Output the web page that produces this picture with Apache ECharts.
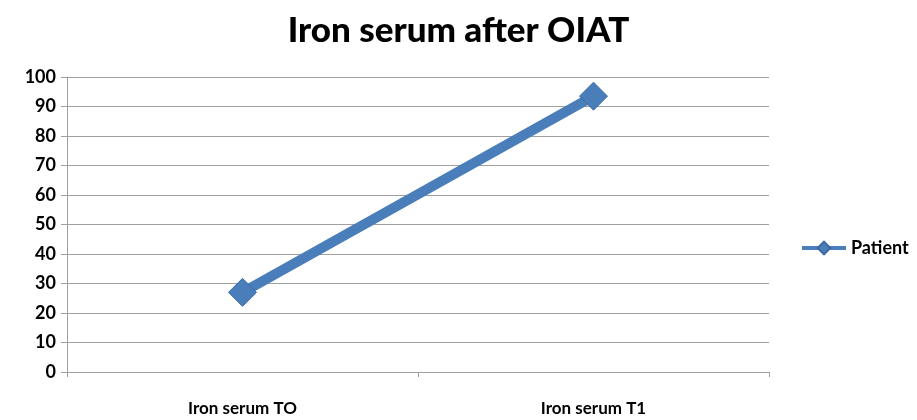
<!DOCTYPE html>
<html><head><meta charset="utf-8">
<script src="https://cdn.jsdelivr.net/npm/echarts@6/dist/echarts.min.js"></script>
<style>html,body{margin:0;padding:0;background:#fff}#c{width:917px;height:420px}</style>
</head><body><div id="c"></div>
<script>
var categories = ['Iron serum TO', 'Iron serum T1'];
var patient = [27, 93.5];
var seriesName = 'Patient';
var titleText = 'Iron serum after OIAT';

var chart = echarts.init(document.getElementById('c'));
chart.setOption({
  animation: false,
  title: {text: titleText, left: 'center', top: 8,
    textStyle: {fontFamily: 'Lato', fontWeight: 900, fontSize: 35, color: '#000'}},
  legend: {orient: 'vertical', left: 800, top: 239, padding: 0, itemWidth: 44, itemHeight: 16, itemGap: 4,
    textStyle: {fontFamily: 'Lato', fontWeight: 'bold', fontSize: 18, color: '#000'},
    data: [{name: seriesName, itemStyle: {color: '#4a7ebb'}, lineStyle: {width: 4}}]},
  grid: {left: 67, right: 148, top: 77, bottom: 48},
  xAxis: {type: 'category', data: categories, boundaryGap: true,
    axisLine: {lineStyle: {color: '#a0a0a0', width: 1}},
    axisTick: {show: true, length: 5, lineStyle: {color: '#a0a0a0'}},
    axisLabel: {margin: 28, fontFamily: 'Lato', fontWeight: 'bold', fontSize: 17, color: '#000'}},
  yAxis: {type: 'value', min: 0, max: 100, interval: 10,
    axisLine: {show: true, lineStyle: {color: '#a0a0a0'}},
    axisTick: {show: true, inside: false, length: 6, lineStyle: {color: '#a0a0a0'}},
    splitLine: {lineStyle: {color: '#a0a0a0'}},
    axisLabel: {margin: 11, fontFamily: 'Lato', fontWeight: 'bold', fontSize: 18, color: '#000'}},
  series: [{name: seriesName, type: 'line', data: patient,
    symbol: 'diamond', symbolSize: 28,
    lineStyle: {color: '#4a7ebb', width: 10},
    itemStyle: {color: '#4a7ebb', borderColor: '#3a6aa5', borderWidth: 1}}]
});
</script></body></html>
